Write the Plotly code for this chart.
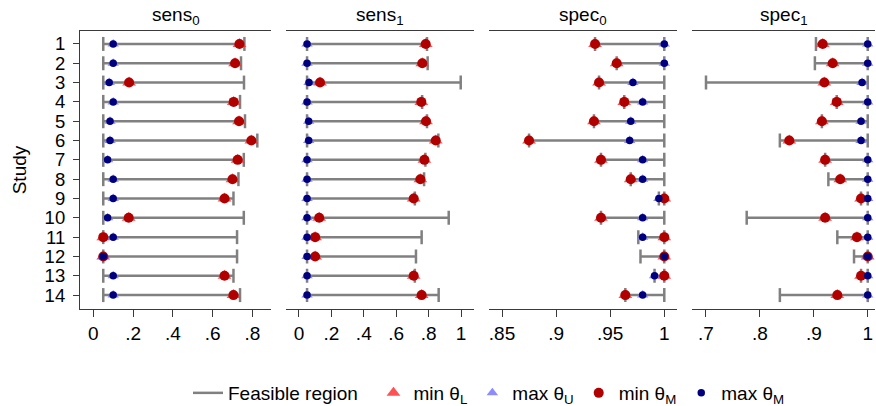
import plotly.graph_objects as go

studies = list(range(1, 15))
study_labels = [str(s) for s in studies]

panel_titles = ["sens<sub>0</sub>", "sens<sub>1</sub>", "spec<sub>0</sub>", "spec<sub>1</sub>"]

# feasible region (lo, hi), min theta (L and M coincide), max theta (U and M coincide)
sens0_lo = [0.05] * 14
sens0_hi = [0.76, 0.743, 0.758, 0.738, 0.763, 0.825, 0.757, 0.73, 0.705, 0.757, 0.723, 0.723, 0.705, 0.738]
sens0_min = [0.735, 0.713, 0.18, 0.706, 0.733, 0.795, 0.726, 0.70, 0.66, 0.178, 0.05, 0.05, 0.66, 0.705]
sens0_max = [0.10, 0.10, 0.08, 0.10, 0.084, 0.084, 0.072, 0.10, 0.10, 0.072, 0.10, 0.05, 0.10, 0.10]

sens1_lo = [0.05] * 14
sens1_hi = [0.79, 0.794, 0.998, 0.76, 0.79, 0.86, 0.78, 0.772, 0.715, 0.924, 0.757, 0.722, 0.715, 0.862]
sens1_min = [0.782, 0.761, 0.13, 0.755, 0.784, 0.844, 0.774, 0.749, 0.708, 0.125, 0.10, 0.10, 0.708, 0.757]
sens1_max = [0.05, 0.05, 0.062, 0.05, 0.06, 0.06, 0.05, 0.05, 0.05, 0.05, 0.05, 0.05, 0.05, 0.05]

spec0_lo = [0.936, 0.956, 0.9397, 0.963, 0.935, 0.875, 0.9415, 0.969, 0.995, 0.9415, 0.976, 0.978, 0.991, 0.964]
spec0_hi = [1.0] * 14
spec0_min = [0.936, 0.956, 0.9397, 0.963, 0.935, 0.875, 0.9415, 0.969, 1.0, 0.9415, 1.0, 1.0, 1.0, 0.964]
spec0_max = [1.0, 1.0, 0.971, 0.98, 0.969, 0.968, 0.98, 0.98, 0.995, 0.98, 0.98, 1.0, 0.991, 0.98]

spec1_lo = [0.904, 0.902, 0.70, 0.9425, 0.915, 0.837, 0.921, 0.927, 0.9876, 0.7755, 0.9436, 0.9746, 0.9876, 0.837]
spec1_hi = [1.0] * 14
spec1_min = [0.9165, 0.935, 0.9195, 0.9425, 0.915, 0.8545, 0.921, 0.949, 0.9876, 0.921, 0.98, 1.0, 0.9876, 0.9436]
spec1_max = [1.0, 1.0, 0.9895, 1.0, 0.9876, 0.9876, 1.0, 1.0, 1.0, 1.0, 1.0, 1.0, 1.0, 1.0]

x_tickvals = [
    [0, 0.2, 0.4, 0.6, 0.8],
    [0, 0.2, 0.4, 0.6, 0.8, 1],
    [0.85, 0.9, 0.95, 1],
    [0.7, 0.8, 0.9, 1],
]
x_ticktext = [
    ["0", ".2", ".4", ".6", ".8"],
    ["0", ".2", ".4", ".6", ".8", "1"],
    [".85", ".9", ".95", "1"],
    [".7", ".8", ".9", "1"],
]

panels = [
    (sens0_lo, sens0_hi, sens0_min, sens0_max),
    (sens1_lo, sens1_hi, sens1_min, sens1_max),
    (spec0_lo, spec0_hi, spec0_min, spec0_max),
    (spec1_lo, spec1_hi, spec1_min, spec1_max),
]

x_ranges = [[-0.067, 0.894], [-0.082, 1.080], [0.838, 1.0115], [0.6746, 1.0135]]
domains = [[0.0, 0.2403], [0.2587, 0.4956], [0.5145, 0.7506], [0.7702, 1.0]]

FONT = "Liberation Sans, Arial, sans-serif"
GRAY = "#808080"
AXC = "#3a3a3a"

fig = go.Figure()

for i, (lo, hi, mn, mx) in enumerate(panels):
    xa = "x" if i == 0 else f"x{i+1}"
    first = i == 0
    lx, ly = [], []
    for s, a, b in zip(studies, lo, hi):
        lx += [a, b, None]
        ly += [s, s, None]
    fig.add_trace(go.Scatter(
        x=lx, y=ly, mode="lines", xaxis=xa, yaxis="y",
        line=dict(color=GRAY, width=2.5),
        name="Feasible region\u00a0\u00a0", legendgroup="feas", showlegend=first,
        hoverinfo="skip"))
    fig.add_trace(go.Scatter(
        x=lo + hi, y=studies + studies, mode="markers", xaxis=xa, yaxis="y",
        marker=dict(symbol="line-ns", size=10, line=dict(color=GRAY, width=2.5)),
        legendgroup="feas", showlegend=False, hoverinfo="skip"))
    fig.add_trace(go.Scatter(
        x=mn, y=studies, mode="markers", xaxis=xa, yaxis="y",
        marker=dict(symbol="triangle-up", size=12, color="rgba(255,50,50,0.85)"),
        name="min θ<sub>L</sub>", legendgroup="minL", showlegend=first))
    fig.add_trace(go.Scatter(
        x=mx, y=studies, mode="markers", xaxis=xa, yaxis="y",
        marker=dict(symbol="triangle-up", size=10, color="rgba(128,128,255,0.9)"),
        name="max θ<sub>U</sub>", legendgroup="maxU", showlegend=first))
    fig.add_trace(go.Scatter(
        x=mn, y=studies, mode="markers", xaxis=xa, yaxis="y",
        marker=dict(symbol="circle", size=10, color="#B00000"),
        name="min θ<sub>M</sub>", legendgroup="minM", showlegend=first))
    fig.add_trace(go.Scatter(
        x=mx, y=studies, mode="markers", xaxis=xa, yaxis="y",
        marker=dict(symbol="circle", size=7.5, color="#00007F"),
        name="max θ<sub>M</sub>", legendgroup="maxM", showlegend=first))

layout = dict(
    width=876, height=406,
    margin=dict(l=80, r=1, t=31, b=97),
    paper_bgcolor="white", plot_bgcolor="white",
    font=dict(family=FONT, size=19, color="black"),
    showlegend=True,
    legend=dict(orientation="h", xref="container", x=188 / 876, xanchor="left",
                yref="container", y=13 / 406, yanchor="middle",
                font=dict(size=19), itemwidth=30, tracegroupgap=0,
                bgcolor="rgba(0,0,0,0)"),
    yaxis=dict(range=[14.72, 0.33], tickvals=studies, ticktext=study_labels,
               showline=True, linecolor=AXC, linewidth=1.2, ticks="outside",
               ticklen=6, tickcolor=AXC, showgrid=False, zeroline=False,
               ticklabelstandoff=4, tickfont=dict(size=18.5),
               title=dict(text="Study", font=dict(size=19), standoff=12)),
)
annotations = []
for i in range(4):
    key = "xaxis" if i == 0 else f"xaxis{i+1}"
    layout[key] = dict(
        domain=domains[i], range=x_ranges[i], anchor="y",
        tickvals=x_tickvals[i], ticktext=x_ticktext[i],
        showline=True, mirror=True, linecolor=AXC, linewidth=1.2,
        ticks="outside", ticklen=7, tickcolor=AXC,
        showgrid=False, zeroline=False)
    annotations.append(dict(
        text=panel_titles[i], xref="paper", yref="paper",
        x=(domains[i][0] + domains[i][1]) / 2, y=1, xanchor="center",
        yanchor="bottom", yshift=1, showarrow=False, font=dict(size=19)))
layout["annotations"] = annotations
fig.update_layout(**layout)

fig.write_html("out.html")
